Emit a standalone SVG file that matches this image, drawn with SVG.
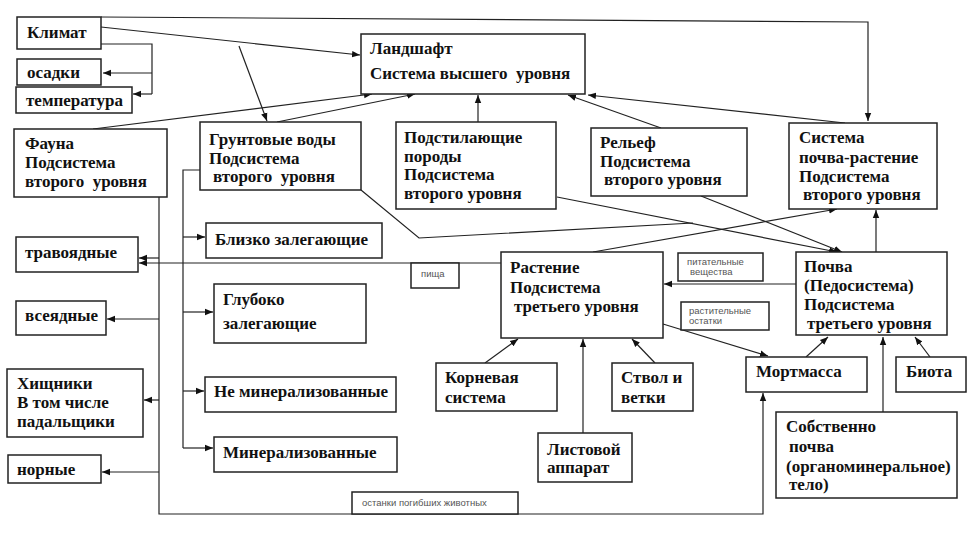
<svg xmlns="http://www.w3.org/2000/svg" width="978" height="533" viewBox="0 0 978 533">
<style>
.b{fill:#fff;stroke:#222;stroke-width:1.5}
.t{font-family:"Liberation Serif","Times New Roman",serif;font-weight:bold;font-size:17px;fill:#111}
.s{font-family:"Liberation Sans",Arial,sans-serif;font-size:9.5px;fill:#555}
.c{fill:none;stroke:#222;stroke-width:1.2}
</style>
<defs>
<marker id="a" viewBox="0 0 10 10" refX="10" refY="5" markerWidth="8" markerHeight="8" markerUnits="userSpaceOnUse" orient="auto">
<path d="M0,1 L10,5 L0,9 z" fill="#111"/>
</marker>
</defs>
<rect width="978" height="533" fill="#fff"/>
<g id="connectors">
<polyline class="c" points="101,17 868,22 868,121" marker-end="url(#a)"/>
<line class="c" x1="101" y1="27" x2="360" y2="55" marker-end="url(#a)"/>
<line class="c" x1="239" y1="46" x2="267" y2="121" marker-end="url(#a)"/>
<polyline class="c" points="101,44 152,44 152,94"/>
<line class="c" x1="152" y1="73" x2="103" y2="73" marker-end="url(#a)"/>
<line class="c" x1="152" y1="94" x2="133" y2="94" marker-end="url(#a)"/>
<line class="c" x1="93" y1="129" x2="372" y2="94" marker-end="url(#a)"/>
<line class="c" x1="277" y1="122" x2="415" y2="94" marker-end="url(#a)"/>
<line class="c" x1="478" y1="122" x2="478" y2="95" marker-end="url(#a)"/>
<line class="c" x1="661" y1="128" x2="568" y2="95" marker-end="url(#a)"/>
<line class="c" x1="845" y1="123" x2="588" y2="95" marker-end="url(#a)"/>
<polyline class="c" points="361,190 419,238 693,223"/>
<line class="c" x1="557" y1="197" x2="837" y2="252" marker-end="url(#a)"/>
<line class="c" x1="701" y1="196" x2="842" y2="252" marker-end="url(#a)"/>
<line class="c" x1="593" y1="252" x2="837" y2="209" marker-end="url(#a)"/>
<line class="c" x1="876" y1="252" x2="876" y2="210" marker-end="url(#a)"/>
<polyline class="c" points="200,170 183,170 183,448"/>
<line class="c" x1="183" y1="237" x2="205" y2="237" marker-end="url(#a)"/>
<line class="c" x1="183" y1="312" x2="213" y2="312" marker-end="url(#a)"/>
<line class="c" x1="183" y1="391" x2="204" y2="391" marker-end="url(#a)"/>
<line class="c" x1="183" y1="448" x2="213" y2="448" marker-end="url(#a)"/>
<polyline class="c" points="159,197 159,514 763,514 763,393" marker-end="url(#a)"/>
<line class="c" x1="159" y1="258" x2="139" y2="258" marker-end="url(#a)"/>
<line class="c" x1="501" y1="263" x2="139" y2="263" marker-end="url(#a)"/>
<line class="c" x1="159" y1="319" x2="107" y2="319" marker-end="url(#a)"/>
<line class="c" x1="159" y1="400" x2="144" y2="400" marker-end="url(#a)"/>
<line class="c" x1="159" y1="472" x2="102" y2="472" marker-end="url(#a)"/>
<line class="c" x1="796" y1="284" x2="664" y2="284" marker-end="url(#a)"/>
<line class="c" x1="663" y1="324" x2="768" y2="356" marker-end="url(#a)"/>
<line class="c" x1="806" y1="357" x2="828" y2="337" marker-end="url(#a)"/>
<line class="c" x1="930" y1="357" x2="915" y2="337" marker-end="url(#a)"/>
<line class="c" x1="883" y1="412" x2="883" y2="337" marker-end="url(#a)"/>
<line class="c" x1="485" y1="363" x2="518" y2="339" marker-end="url(#a)"/>
<line class="c" x1="655" y1="363" x2="632" y2="339" marker-end="url(#a)"/>
<line class="c" x1="583" y1="433" x2="583" y2="339" marker-end="url(#a)"/>
</g>
<g id="n-klimat"><rect class="b" x="17" y="17" width="84" height="32"/><text class="t" x="27" y="38">Климат</text></g>
<g id="n-osadki"><rect class="b" x="17" y="59" width="84" height="26"/><text class="t" x="27" y="78">осадки</text></g>
<g id="n-temp"><rect class="b" x="16" y="87" width="116" height="26"/><text class="t" x="26" y="106">температура</text></g>
<g id="n-landshaft"><rect class="b" x="361" y="34" width="224" height="60"/><text class="t" x="370" y="54">Ландшафт</text><text class="t" x="370" y="79" xml:space="preserve">Система высшего  уровня</text></g>
<g id="n-fauna"><rect class="b" x="14" y="129" width="153" height="68"/><text class="t" x="25" y="149">Фауна</text><text class="t" x="25" y="168">Подсистема</text><text class="t" x="25" y="187" xml:space="preserve">второго  уровня</text></g>
<g id="n-grunt"><rect class="b" x="200" y="122" width="161" height="68"/><text class="t" x="209" y="145">Грунтовые воды</text><text class="t" x="209" y="164">Подсистема</text><text class="t" x="213" y="182" xml:space="preserve">второго  уровня</text></g>
<g id="n-podst"><rect class="b" x="396" y="122" width="160" height="87"/><text class="t" x="404" y="143">Подстилающие</text><text class="t" x="404" y="162">породы</text><text class="t" x="404" y="180">Подсистема</text><text class="t" x="404" y="199">второго уровня</text></g>
<g id="n-relief"><rect class="b" x="591" y="128" width="156" height="68"/><text class="t" x="600" y="148">Рельеф</text><text class="t" x="600" y="167">Подсистема</text><text class="t" x="604" y="185">второго уровня</text></g>
<g id="n-sistema"><rect class="b" x="789" y="123" width="148" height="86"/><text class="t" x="799" y="143">Система</text><text class="t" x="799" y="163">почва-растение</text><text class="t" x="799" y="182">Подсистема</text><text class="t" x="803" y="200">второго уровня</text></g>
<g id="n-blizko"><rect class="b" x="206" y="223" width="176" height="35"/><text class="t" x="215" y="245">Близко залегающие</text></g>
<g id="n-gluboko"><rect class="b" x="214" y="284" width="152" height="59"/><text class="t" x="223" y="305">Глубоко</text><text class="t" x="223" y="329">залегающие</text></g>
<g id="n-nemin"><rect class="b" x="205" y="377" width="191" height="35"/><text class="t" x="214" y="397">Не минерализованные</text></g>
<g id="n-min"><rect class="b" x="214" y="437" width="183" height="35"/><text class="t" x="223" y="458">Минерализованные</text></g>
<g id="n-travo"><rect class="b" x="16" y="237" width="122" height="35"/><text class="t" x="25" y="258">травоядные</text></g>
<g id="n-vse"><rect class="b" x="16" y="301" width="90" height="34"/><text class="t" x="25" y="321">всеядные</text></g>
<g id="n-hish"><rect class="b" x="7" y="369" width="136" height="68"/><text class="t" x="17" y="389">Хищники</text><text class="t" x="17" y="408">В том числе</text><text class="t" x="17" y="427">падальщики</text></g>
<g id="n-nor"><rect class="b" x="8" y="455" width="93" height="28"/><text class="t" x="17" y="475">норные</text></g>
<g id="n-pisha"><rect class="b" x="411" y="263" width="48" height="25"/><text class="s" x="421" y="277">пища</text></g>
<g id="n-ostanki"><rect class="b" x="352" y="492" width="166" height="22"/><text class="s" x="362" y="506">останки погибших животных</text></g>
<g id="n-rastenie"><rect class="b" x="501" y="252" width="162" height="86"/><text class="t" x="510" y="273">Растение</text><text class="t" x="510" y="293">Подсистема</text><text class="t" x="514" y="312">третьего уровня</text></g>
<g id="n-pitat"><rect class="b" x="678" y="253" width="85" height="28"/><text class="s" x="687" y="265">питательные</text><text class="s" x="690" y="275">вещества</text></g>
<g id="n-rast-ost"><rect class="b" x="681" y="302" width="88" height="28"/><text class="s" x="689" y="314">растительные</text><text class="s" x="689" y="324">остатки</text></g>
<g id="n-pochva"><rect class="b" x="796" y="252" width="151" height="83"/><text class="t" x="804" y="272">Почва</text><text class="t" x="804" y="291">(Педосистема)</text><text class="t" x="804" y="310">Подсистема</text><text class="t" x="807" y="329">третьего уровня</text></g>
<g id="n-korn"><rect class="b" x="436" y="363" width="121" height="48"/><text class="t" x="445" y="383">Корневая</text><text class="t" x="445" y="403">система</text></g>
<g id="n-stvol"><rect class="b" x="612" y="363" width="81" height="48"/><text class="t" x="621" y="383">Ствол и</text><text class="t" x="621" y="403">ветки</text></g>
<g id="n-list"><rect class="b" x="538" y="433" width="94" height="49"/><text class="t" x="547" y="455">Листовой</text><text class="t" x="547" y="473">аппарат</text></g>
<g id="n-mort"><rect class="b" x="746" y="357" width="121" height="35"/><text class="t" x="756" y="377">Мортмасса</text></g>
<g id="n-biota"><rect class="b" x="896" y="357" width="70" height="35"/><text class="t" x="906" y="377">Биота</text></g>
<g id="n-sobstv"><rect class="b" x="776" y="412" width="181" height="86"/><text class="t" x="786" y="432">Собственно</text><text class="t" x="789" y="452">почва</text><text class="t" x="786" y="472">(органоминеральное)</text><text class="t" x="789" y="490">тело)</text></g>
</svg>
